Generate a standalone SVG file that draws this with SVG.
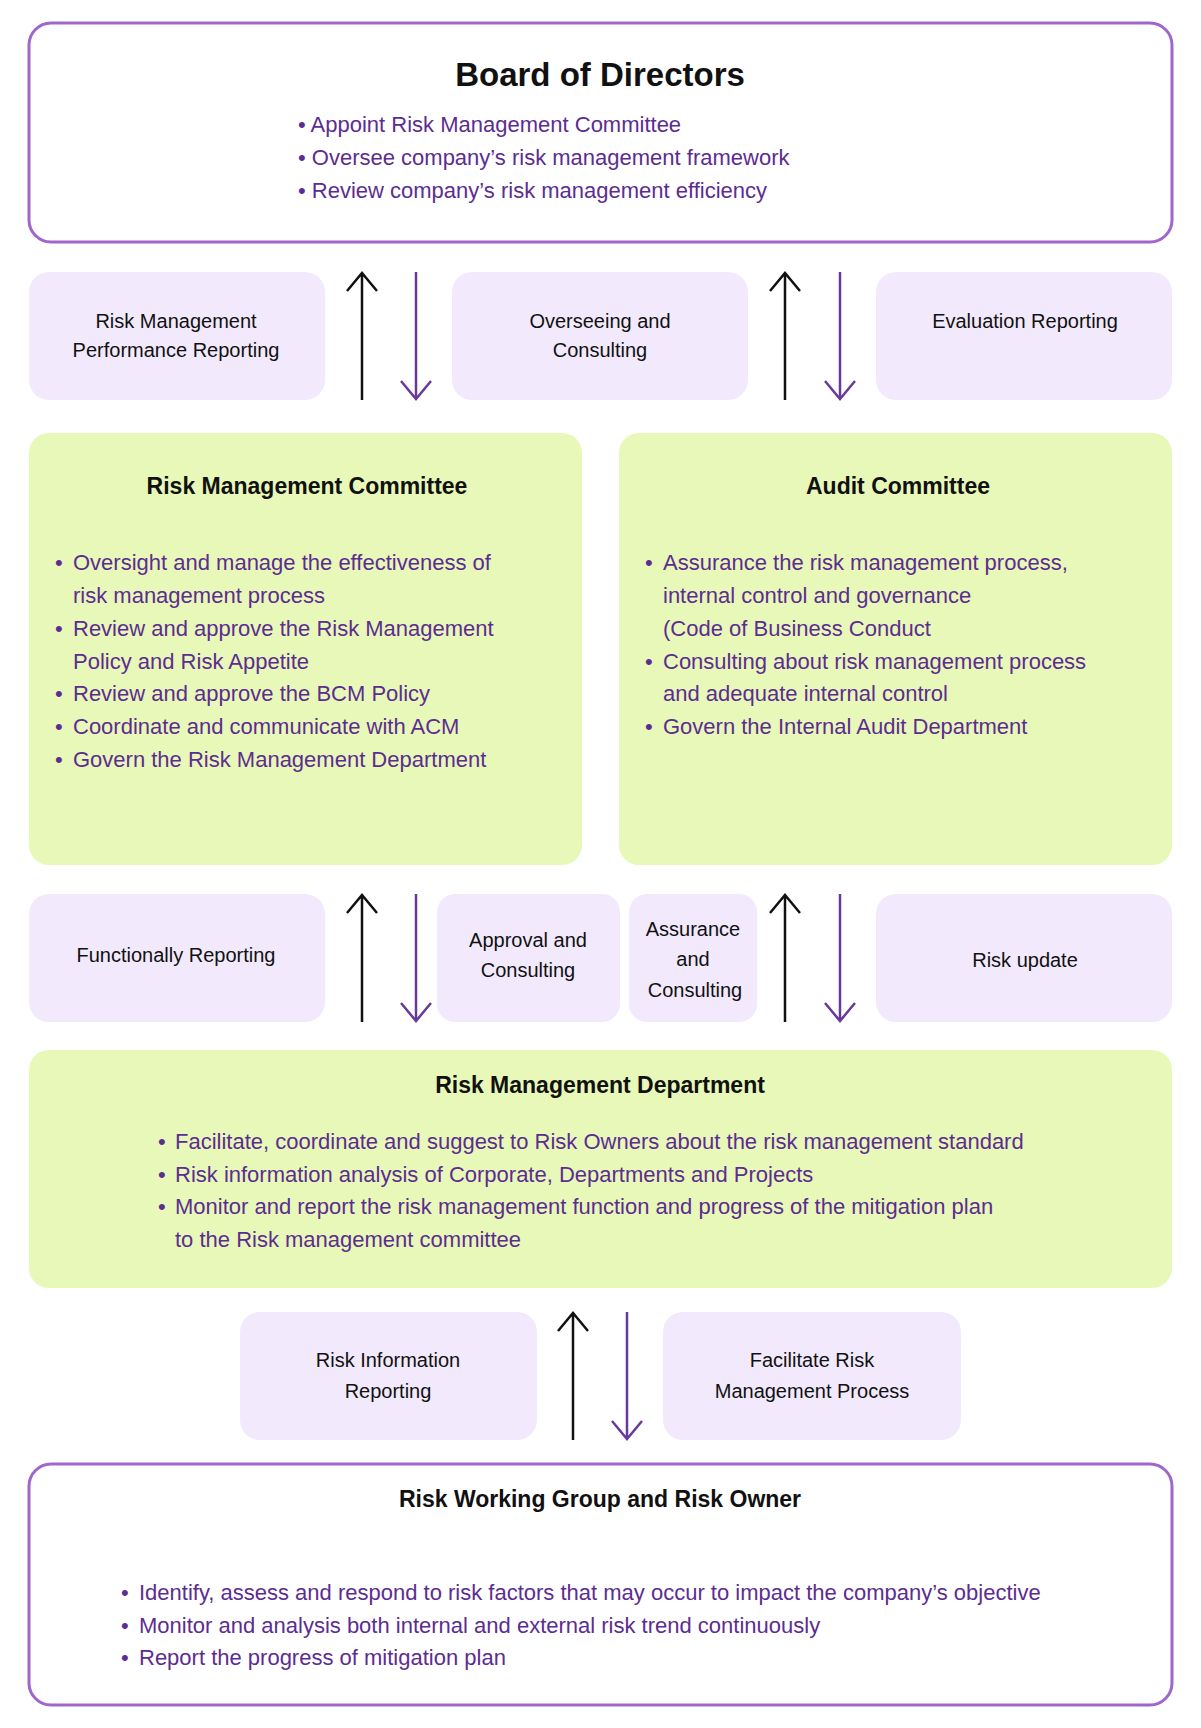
<svg xmlns="http://www.w3.org/2000/svg" width="1201" height="1728" viewBox="0 0 1201 1728">
<style>
text{font-family:"Liberation Sans",Arial,sans-serif}
.big{fill:#fff;stroke:#a066cc;stroke-width:3}
.lab{fill:#f2eafc}
.grn{fill:#e8f8b8}
.t{font-size:20px;fill:#111;text-anchor:middle}
.h{font-size:23px;font-weight:bold;fill:#111;text-anchor:middle}
.b{font-size:22px;fill:#5c2d91}
.up{stroke:#111;stroke-width:2.5;fill:none}
.dn{stroke:#6a3a9a;stroke-width:2.5;fill:none}
</style>
<g id="board">
<rect class="big" x="29" y="23" width="1143" height="219" rx="22"/>
<text x="600" y="86" style="font-size:33px;font-weight:bold;fill:#111;text-anchor:middle">Board of Directors</text>
<text class="b" x="298" y="132">• Appoint Risk Management Committee</text>
<text class="b" x="298" y="165">• Oversee company’s risk management framework</text>
<text class="b" x="298" y="198">• Review company’s risk management efficiency</text>
</g>
<g id="lbl1"><rect class="lab" x="29" y="272" width="296" height="128" rx="20"/><text class="t" x="176" y="328">Risk Management</text><text class="t" x="176" y="357">Performance Reporting</text></g>
<g id="lbl2"><rect class="lab" x="452" y="272" width="296" height="128" rx="20"/><text class="t" x="600" y="328">Overseeing and</text><text class="t" x="600" y="357">Consulting</text></g>
<g id="lbl3"><rect class="lab" x="876" y="272" width="296" height="128" rx="20"/><text class="t" x="1025" y="328">Evaluation Reporting</text></g>
<g id="rmc">
<rect class="grn" x="29" y="433" width="553" height="432" rx="20"/>
<text class="h" x="307" y="494">Risk Management Committee</text>
<text class="b" x="55" y="570">•</text><text class="b" x="73" y="570">Oversight and manage the effectiveness of</text>
<text class="b" x="73" y="603">risk management process</text>
<text class="b" x="55" y="636">•</text><text class="b" x="73" y="636">Review and approve the Risk Management</text>
<text class="b" x="73" y="669">Policy and Risk Appetite</text>
<text class="b" x="55" y="701">•</text><text class="b" x="73" y="701">Review and approve the BCM Policy</text>
<text class="b" x="55" y="734">•</text><text class="b" x="73" y="734">Coordinate and communicate with ACM</text>
<text class="b" x="55" y="767">•</text><text class="b" x="73" y="767">Govern the Risk Management Department</text>
</g>
<g id="ac">
<rect class="grn" x="619" y="433" width="553" height="432" rx="20"/>
<text class="h" x="898" y="494">Audit Committee</text>
<text class="b" x="645" y="570">•</text><text class="b" x="663" y="570">Assurance the risk management process,</text>
<text class="b" x="663" y="603">internal control and governance</text>
<text class="b" x="663" y="636">(Code of Business Conduct</text>
<text class="b" x="645" y="669">•</text><text class="b" x="663" y="669">Consulting about risk management process</text>
<text class="b" x="663" y="701">and adequate internal control</text>
<text class="b" x="645" y="734">•</text><text class="b" x="663" y="734">Govern the Internal Audit Department</text>
</g>
<g id="lbl4"><rect class="lab" x="29" y="894" width="296" height="128" rx="20"/><text class="t" x="176" y="962">Functionally Reporting</text></g>
<g id="lbl5"><rect class="lab" x="437" y="894" width="183" height="128" rx="18"/><text class="t" x="528" y="947">Approval and</text><text class="t" x="528" y="977">Consulting</text></g>
<g id="lbl6"><rect class="lab" x="629" y="894" width="128" height="128" rx="18"/><text class="t" x="693" y="936">Assurance</text><text class="t" x="693" y="966">and</text><text class="t" x="695" y="997">Consulting</text></g>
<g id="lbl7"><rect class="lab" x="876" y="894" width="296" height="128" rx="20"/><text class="t" x="1025" y="967">Risk update</text></g>
<g id="rmd">
<rect class="grn" x="29" y="1050" width="1143" height="238" rx="20"/>
<text class="h" x="600" y="1093">Risk Management Department</text>
<text class="b" x="158" y="1149">•</text><text class="b" x="175" y="1149">Facilitate, coordinate and suggest to Risk Owners about the risk management standard</text>
<text class="b" x="158" y="1182">•</text><text class="b" x="175" y="1182">Risk information analysis of Corporate, Departments and Projects</text>
<text class="b" x="158" y="1214">•</text><text class="b" x="175" y="1214">Monitor and report the risk management function and progress of the mitigation plan</text>
<text class="b" x="175" y="1247">to the Risk management committee</text>
</g>
<g id="lbl8"><rect class="lab" x="240" y="1312" width="297" height="128" rx="20"/><text class="t" x="388" y="1367">Risk Information</text><text class="t" x="388" y="1398">Reporting</text></g>
<g id="lbl9"><rect class="lab" x="663" y="1312" width="298" height="128" rx="20"/><text class="t" x="812" y="1367">Facilitate Risk</text><text class="t" x="812" y="1398">Management Process</text></g>
<g id="rwg">
<rect class="big" x="29" y="1464" width="1143" height="241" rx="22"/>
<text class="h" x="600" y="1507">Risk Working Group and Risk Owner</text>
<text class="b" x="121" y="1600">•</text><text class="b" x="139" y="1600">Identify, assess and respond to risk factors that may occur to impact the company’s objective</text>
<text class="b" x="121" y="1633">•</text><text class="b" x="139" y="1633">Monitor and analysis both internal and external risk trend continuously</text>
<text class="b" x="121" y="1665">•</text><text class="b" x="139" y="1665">Report the progress of mitigation plan</text>
</g>
<g id="connectors">
<path class="up" d="M362 400V273M347 291L362 273L377 291"/>
<path class="dn" d="M416 272V399M401 381L416 399L431 381"/>
<path class="up" d="M785 400V273M770 291L785 273L800 291"/>
<path class="dn" d="M840 272V399M825 381L840 399L855 381"/>
<path class="up" d="M362 1022V895M347 913L362 895L377 913"/>
<path class="dn" d="M416 894V1021M401 1003L416 1021L431 1003"/>
<path class="up" d="M785 1022V895M770 913L785 895L800 913"/>
<path class="dn" d="M840 894V1021M825 1003L840 1021L855 1003"/>
<path class="up" d="M573 1440V1313M558 1331L573 1313L588 1331"/>
<path class="dn" d="M627 1312V1439M612 1421L627 1439L642 1421"/>
</g>
</svg>
